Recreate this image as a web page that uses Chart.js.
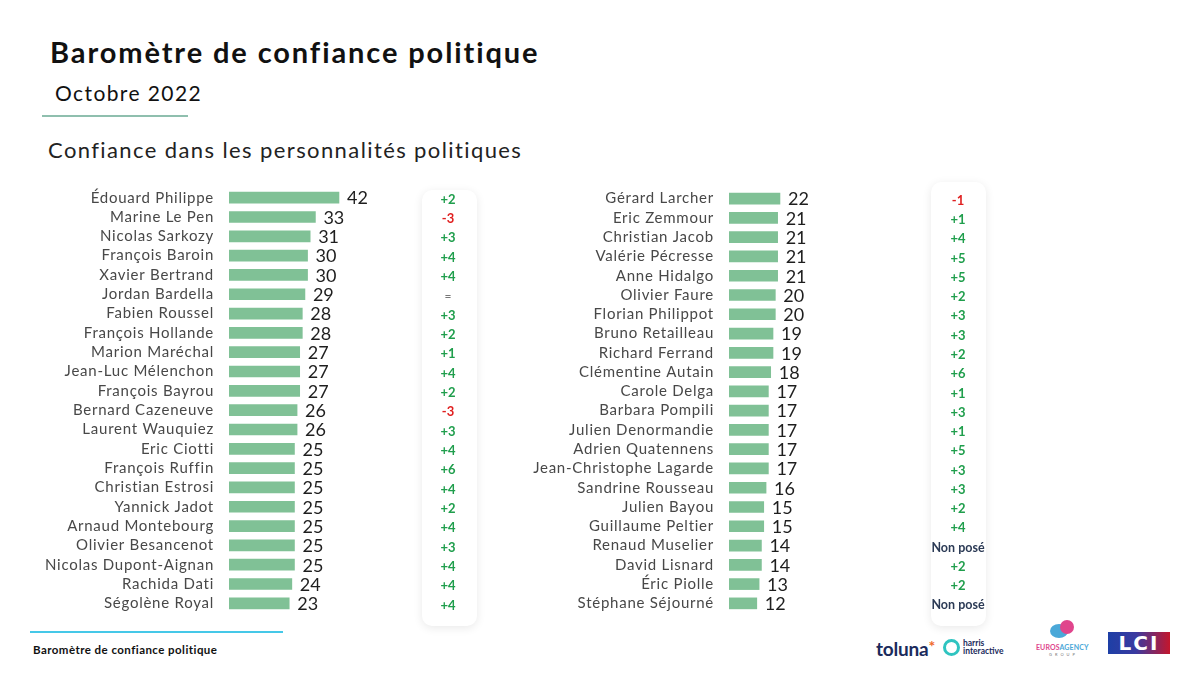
<!DOCTYPE html>
<html lang="fr">
<head>
<meta charset="utf-8">
<title>Baromètre de confiance politique</title>
<script src="https://cdn.jsdelivr.net/npm/chart.js@4.4.1/dist/chart.umd.min.js"></script>
<style>
  html, body { margin: 0; padding: 0; background: #fff; }
  body { width: 1200px; height: 675px; position: relative; overflow: hidden; font-family: Lato, "Open Sans", sans-serif; }
  .abs { position: absolute; }
  #title { left: 50px; top: 34px; font-size: 29px; font-weight: 700; color: #111; letter-spacing: 1.9px; }
  #month { left: 55px; top: 80px; font-size: 21px; color: #111; letter-spacing: 1.4px; }
  #monthLine { left: 42px; top: 115px; width: 146px; height: 2px; background: #8fbfae; }
  #subtitle { left: 48px; top: 136px; font-size: 22px; color: #222; letter-spacing: 1.4px; }
  .box { background: #fff; border-radius: 10px; box-shadow: 0 2px 10px rgba(0,0,0,0.09); z-index: 0; }
  canvas { position: absolute; z-index: 1; }
  #footLine { left: 30px; top: 631px; width: 253px; height: 2px; background: #45c8e8; }
  #footText { left: 33px; top: 643px; font-size: 11.5px; font-weight: 700; color: #111; letter-spacing: 0.45px; }
  #toluna { left: 876px; top: 636px; font-size: 19px; font-weight: 700; color: #1b2b5c; letter-spacing: -0.2px; }
  #toluna span { color: #f0682a; font-size: 16px; vertical-align: 4px; }
  #harrisRing { left: 943px; top: 639px; width: 11px; height: 11px; border-radius: 50%; border: 3px solid #2fc4c0; }
  #harrisText { left: 963px; top: 639px; font-size: 8.5px; line-height: 8px; font-weight: 700; color: #1b2b5c; }
  #eurosIcon1 { left: 1050px; top: 624px; width: 18px; height: 14px; border-radius: 50%; background: #4aa8d8; }
  #eurosIcon2 { left: 1060px; top: 620px; width: 14px; height: 14px; border-radius: 50%; background: #e0458c; }
  #eurosText { left: 1036px; top: 643px; font-size: 7px; font-weight: 700; color: #e0458c; letter-spacing: 0.1px; }
  #eurosText span { color: #4aa8d8; }
  #eurosGroup { left: 1049px; top: 652px; font-size: 4px; color: #777; letter-spacing: 3px; }
  #lci { left: 1108px; top: 632px; width: 62px; height: 22px; background: linear-gradient(90deg, #1d3fa6 0%, #3a3aa0 45%, #c4162c 100%); color: #fff; font-family: "DejaVu Sans", sans-serif; font-weight: 700; font-size: 20px; line-height: 22px; text-align: center; letter-spacing: 2px; }
</style>
</head>
<body>
<div id="title" class="abs">Baromètre de confiance politique</div>
<div id="month" class="abs">Octobre 2022</div>
<div id="monthLine" class="abs"></div>
<div id="subtitle" class="abs">Confiance dans les personnalités politiques</div>

<div class="abs box" style="left:422px;top:190px;width:55px;height:436px;"></div>
<div class="abs box" style="left:931px;top:182px;width:55px;height:444px;"></div>

<canvas id="leftChart" width="500" height="425" style="left:0;top:188px;width:500px;height:425px;"></canvas>
<canvas id="rightChart" width="500" height="424" style="left:500px;top:189px;width:500px;height:424px;"></canvas>

<div id="footLine" class="abs"></div>
<div id="footText" class="abs">Baromètre de confiance politique</div>

<div id="toluna" class="abs">toluna<span>*</span></div>
<div id="harrisRing" class="abs"></div>
<div id="harrisText" class="abs">harris<br>interactive</div>
<div id="eurosIcon1" class="abs"></div>
<div id="eurosIcon2" class="abs"></div>
<div id="eurosText" class="abs">EUROS<span>AGENCY</span></div>
<div id="eurosGroup" class="abs">GROUP</div>
<div id="lci" class="abs">LCI</div>

<script>
// ── Data ──────────────────────────────────────────────────
const leftNames = [
  "Édouard Philippe", "Marine Le Pen", "Nicolas Sarkozy", "François Baroin", "Xavier Bertrand",
  "Jordan Bardella", "Fabien Roussel", "François Hollande", "Marion Maréchal", "Jean-Luc Mélenchon",
  "François Bayrou", "Bernard Cazeneuve", "Laurent Wauquiez", "Eric Ciotti", "François Ruffin",
  "Christian Estrosi", "Yannick Jadot", "Arnaud Montebourg", "Olivier Besancenot",
  "Nicolas Dupont-Aignan", "Rachida Dati", "Ségolène Royal"
];
const leftValues = [42, 33, 31, 30, 30, 29, 28, 28, 27, 27, 27, 26, 26, 25, 25, 25, 25, 25, 25, 25, 24, 23];
const leftChanges = ["+2", "-3", "+3", "+4", "+4", "=", "+3", "+2", "+1", "+4", "+2", "-3", "+3", "+4", "+6",
  "+4", "+2", "+4", "+3", "+4", "+4", "+4"];

const rightNames = [
  "Gérard Larcher", "Eric Zemmour", "Christian Jacob", "Valérie Pécresse", "Anne Hidalgo",
  "Olivier Faure", "Florian Philippot", "Bruno Retailleau", "Richard Ferrand", "Clémentine Autain",
  "Carole Delga", "Barbara Pompili", "Julien Denormandie", "Adrien Quatennens", "Jean-Christophe Lagarde",
  "Sandrine Rousseau", "Julien Bayou", "Guillaume Peltier", "Renaud Muselier", "David Lisnard",
  "Éric Piolle", "Stéphane Séjourné"
];
const rightValues = [22, 21, 21, 21, 21, 20, 20, 19, 19, 18, 17, 17, 17, 17, 17, 16, 15, 15, 14, 14, 13, 12];
const rightChanges = ["-1", "+1", "+4", "+5", "+5", "+2", "+3", "+3", "+2", "+6", "+1", "+3", "+1", "+5",
  "+3", "+3", "+2", "+4", "Non posé", "+2", "+2", "Non posé"];

const BAR_COLOR = "#80c196";
const NAME_FONT = { family: "Lato", size: 15 };

/* ── Wider letter spacing for the name ticks ───────────────*/
const spacing = {
  id: "spacing",
  beforeDraw(chart) { chart.ctx.letterSpacing = "0.75px"; },
  afterDatasetsDraw(chart) { chart.ctx.letterSpacing = "0px"; }
};

/* ── Value labels at the end of each bar ───────────────────*/
const valueLabels = {
  id: "valueLabels",
  afterDatasetsDraw(chart) {
    const { ctx } = chart;
    const meta = chart.getDatasetMeta(0);
    ctx.save();
    ctx.font = "18px Lato";
    ctx.fillStyle = "#1e1e1e";
    ctx.textAlign = "left";
    ctx.textBaseline = "middle";
    meta.data.forEach((bar, i) => {
      ctx.fillText(chart.data.datasets[0].data[i], bar.x + 8, bar.y + 1);
    });
    ctx.restore();
  }
};

/* ── Change column (evolution vs last month) ───────────────*/
const changeLabels = {
  id: "changes",
  afterDraw(chart, args, opts) {
    const { ctx } = chart;
    const y = chart.scales.y;
    ctx.save();
    ctx.textAlign = "center";
    ctx.textBaseline = "middle";
    (opts.values || []).forEach((v, i) => {
      let color = "#1f9e4c";
      let font = "bold 13px Lato";
      if (v.startsWith("-")) color = "#e02020";
      else if (v === "=") { color = "#777"; font = "12px Lato"; }
      else if (v === "Non posé") { color = "#2b3a55"; font = "bold 12.5px Lato"; }
      ctx.fillStyle = color;
      ctx.font = font;
      ctx.fillText(v, opts.x, y.getPixelForValue(i) + 2);
    });
    ctx.restore();
  }
};

function makeChart(id, names, values, changes, xMax, changeX) {
  return new Chart(document.getElementById(id), {
    type: "bar",
    data: {
      labels: names,
      datasets: [{ data: values, backgroundColor: BAR_COLOR, barThickness: 11 }]
    },
    options: {
      indexAxis: "y",
      responsive: false,
      animation: false,
      layout: { padding: 0, autoPadding: false },
      scales: {
        x: { display: false, min: 0, max: xMax },
        y: {
          afterFit: s => { s.width = 229; s.paddingTop = 0; s.paddingBottom = 0; },
          grid: { display: false, drawTicks: false },
          border: { display: false },
          ticks: { padding: 15, color: "#484848", font: NAME_FONT, autoSkip: false }
        }
      },
      plugins: {
        legend: { display: false },
        tooltip: { enabled: false },
        changes: { values: changes, x: changeX }
      }
    },
    plugins: [spacing, valueLabels, changeLabels]
  });
}

makeChart("leftChart", leftNames, leftValues, leftChanges, 103.5, 448);
makeChart("rightChart", rightNames, rightValues, rightChanges, 117, 458);
</script>
</body>
</html>
